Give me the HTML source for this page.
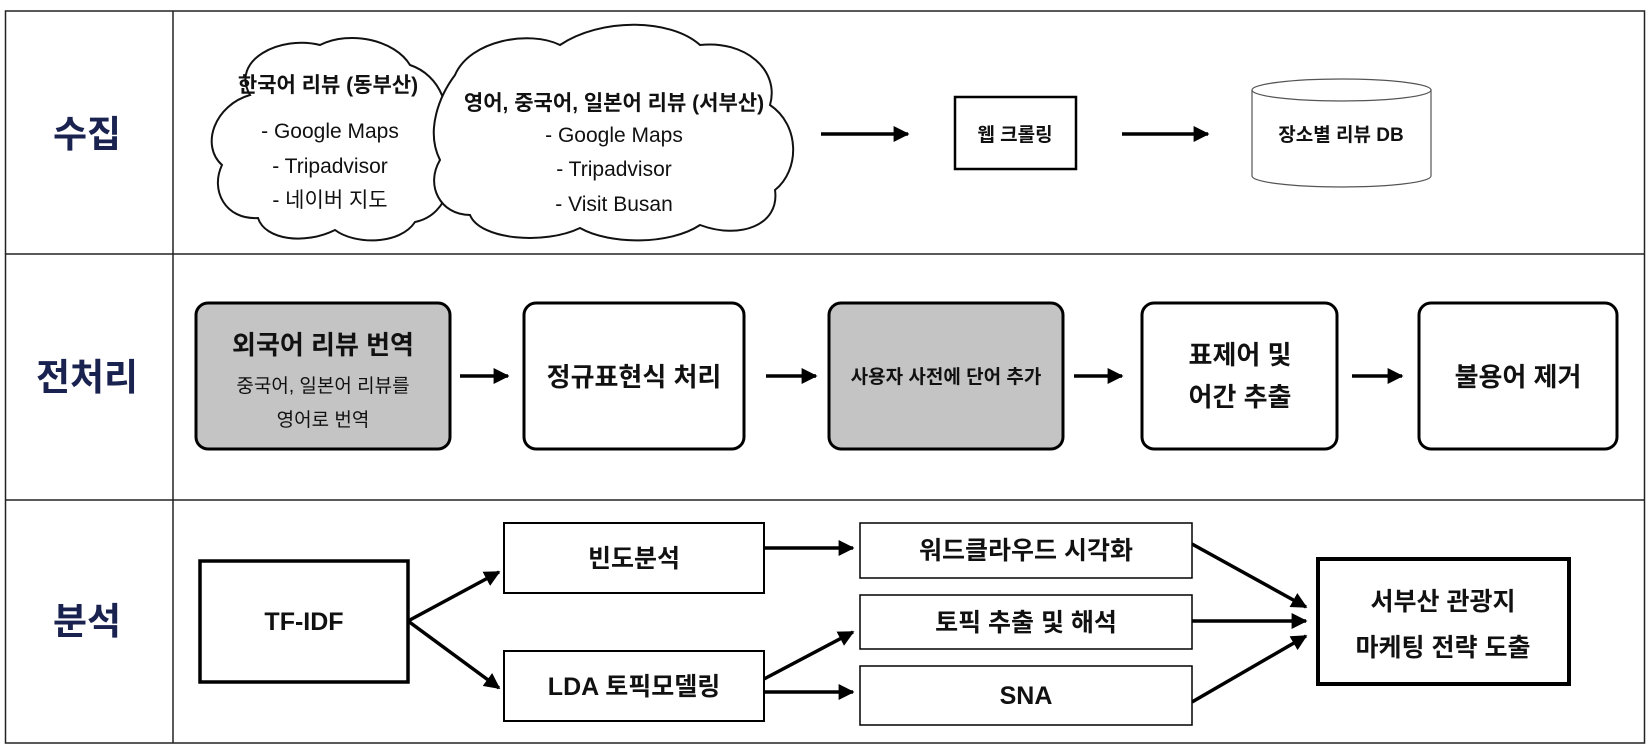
<!DOCTYPE html>
<html><head><meta charset="utf-8"><style>
html,body{margin:0;padding:0;background:#fff}
svg{display:block}
text{font-family:"Liberation Sans","Noto Sans CJK KR",sans-serif;fill:#111}
</style></head><body>
<svg width="1650" height="750" viewBox="0 0 1650 750" xmlns="http://www.w3.org/2000/svg">
<defs><marker id="a" markerWidth="8" markerHeight="8" refX="7" refY="4" orient="auto" markerUnits="userSpaceOnUse"><path d="M0,0 L8,4 L0,8z" fill="#000"/></marker>
<marker id="b" viewBox="0 0 10 10" markerWidth="16" markerHeight="16" refX="9" refY="5" orient="auto" markerUnits="userSpaceOnUse"><path d="M0,0 L10,5 L0,10z" fill="#000"/></marker></defs>
<rect x="5.5" y="11" width="1639" height="732" fill="none" stroke="#222" stroke-width="1.5"/>
<line x1="173" y1="11" x2="173" y2="743" stroke="#222" stroke-width="1.5"/>
<line x1="5" y1="254" x2="1645" y2="254" stroke="#222" stroke-width="1.5"/>
<line x1="5" y1="500" x2="1645" y2="500" stroke="#222" stroke-width="1.5"/>
<g font-size="37" font-weight="bold" text-anchor="middle"><text x="87" y="147" style="fill:#1a2350">수집</text><text x="87" y="390" style="fill:#1a2350">전처리</text><text x="87" y="634" style="fill:#1a2350">분석</text></g>
<!-- clouds -->
<path d="M250,95 C230,60 280,35 320,45 C350,30 395,40 410,65 C440,75 455,110 440,140 C460,170 450,215 415,222 C400,245 355,245 335,230 C305,245 265,240 258,218 C225,220 210,190 222,165 C200,145 215,105 250,95 Z" fill="#fff" stroke="#111" stroke-width="2"/>
<path d="M455,75 C470,40 530,30 560,45 C600,18 670,18 700,45 C745,40 780,70 770,105 C800,125 800,170 775,190 C780,225 740,240 700,225 C670,245 610,245 580,228 C545,245 480,240 470,215 C440,215 425,185 440,160 C425,130 440,95 455,75 Z" fill="#fff" stroke="#111" stroke-width="2"/>
<g font-size="21" text-anchor="middle">
<text x="328" y="92" font-weight="bold">한국어 리뷰 (동부산)</text>
<text x="330" y="138">- Google Maps</text><text x="330" y="173">- Tripadvisor</text><text x="330" y="207">- 네이버 지도</text>
<text x="614" y="110" font-weight="bold">영어, 중국어, 일본어 리뷰 (서부산)</text>
<text x="614" y="142">- Google Maps</text><text x="614" y="176">- Tripadvisor</text><text x="614" y="211">- Visit Busan</text>
</g>
<g stroke="#000" stroke-width="3.5" fill="none" marker-end="url(#b)">
<line x1="821" y1="134" x2="908" y2="134"/><line x1="1122" y1="134" x2="1208" y2="134"/>
<line x1="460" y1="376" x2="508" y2="376"/><line x1="766" y1="376" x2="816" y2="376"/><line x1="1074" y1="376" x2="1122" y2="376"/><line x1="1352" y1="376" x2="1402" y2="376"/>
<line x1="408" y1="621" x2="499" y2="572"/><line x1="408" y1="621" x2="499" y2="688"/>
<line x1="764" y1="548" x2="853" y2="548"/><line x1="764" y1="679" x2="853" y2="632"/><line x1="764" y1="692" x2="853" y2="692"/>
<line x1="1192" y1="544" x2="1306" y2="607"/><line x1="1192" y1="621" x2="1306" y2="621"/><line x1="1192" y1="702" x2="1306" y2="636"/>
</g>
<rect x="955" y="97" width="121" height="72" fill="#fff" stroke="#000" stroke-width="2.5"/>
<text x="1015" y="141" font-size="19" font-weight="bold" text-anchor="middle">웹 크롤링</text>
<path d="M1252,90 L1252,176 A89.5,11 0 0 0 1431,176 L1431,90" fill="#fff" stroke="#555" stroke-width="1.2"/>
<ellipse cx="1341.5" cy="90" rx="89.5" ry="11" fill="#fff" stroke="#555" stroke-width="1.2"/>
<text x="1341" y="141" font-size="19" font-weight="bold" text-anchor="middle">장소별 리뷰 DB</text>
<!-- row 2 -->
<g stroke="#000" stroke-width="3">
<rect x="196" y="303" width="254" height="146" rx="12" fill="#c4c4c4"/>
<rect x="524" y="303" width="220" height="146" rx="12" fill="#fff"/>
<rect x="829" y="303" width="234" height="146" rx="12" fill="#c4c4c4"/>
<rect x="1142" y="303" width="195" height="146" rx="12" fill="#fff"/>
<rect x="1419" y="303" width="198" height="146" rx="12" fill="#fff"/>
</g>
<g text-anchor="middle" font-weight="bold">
<text x="323" y="354" font-size="26">외국어 리뷰 번역</text>
<text x="634" y="386" font-size="26">정규표현식 처리</text>
<text x="946" y="383" font-size="19">사용자 사전에 단어 추가</text>
<text x="1240" y="364" font-size="26">표제어 및</text><text x="1240" y="406" font-size="26">어간 추출</text>
<text x="1518" y="386" font-size="26">불용어 제거</text>
</g>
<text x="323" y="392" font-size="19" text-anchor="middle">중국어, 일본어 리뷰를</text>
<text x="323" y="426" font-size="19" text-anchor="middle">영어로 번역</text>
<!-- row 3 -->
<rect x="200" y="561" width="208" height="121" fill="#fff" stroke="#000" stroke-width="3.5"/>
<rect x="504" y="523" width="260" height="70" fill="#fff" stroke="#000" stroke-width="2"/>
<rect x="504" y="651" width="260" height="70" fill="#fff" stroke="#000" stroke-width="2"/>
<rect x="860" y="523" width="332" height="55" fill="#fff" stroke="#000" stroke-width="1.5"/>
<rect x="860" y="595" width="332" height="54" fill="#fff" stroke="#000" stroke-width="1.5"/>
<rect x="860" y="666" width="332" height="59" fill="#fff" stroke="#000" stroke-width="1.5"/>
<rect x="1318" y="559" width="251" height="125" fill="#fff" stroke="#000" stroke-width="4"/>
<g text-anchor="middle" font-weight="bold" font-size="25">
<text x="304" y="630">TF-IDF</text>
<text x="634" y="567">빈도분석</text>
<text x="634" y="695">LDA 토픽모델링</text>
<text x="1026" y="559">워드클라우드 시각화</text>
<text x="1026" y="631">토픽 추출 및 해석</text>
<text x="1026" y="704">SNA</text>
<text x="1443" y="610">서부산 관광지</text>
<text x="1443" y="656">마케팅 전략 도출</text>
</g>
</svg>
</body></html>
